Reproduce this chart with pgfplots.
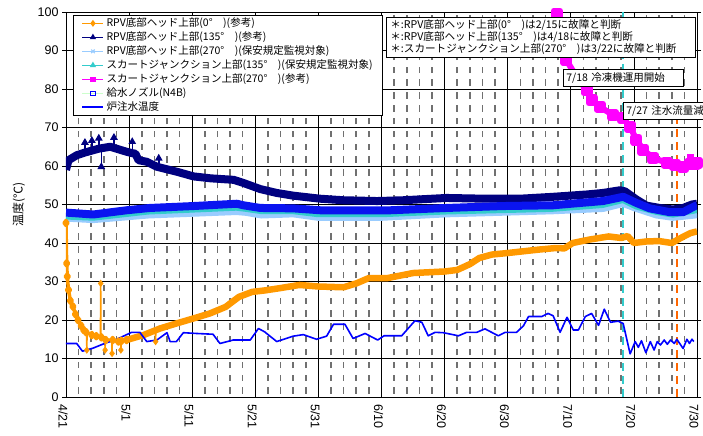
\documentclass[border=0pt]{standalone}
\usepackage{fontspec}
\setmainfont{Liberation Sans}
\newfontfamily\jp{Noto Sans CJK JP}
\usepackage{pgfplots}
\pgfplotsset{compat=1.18}
\usetikzlibrary{calc}
\definecolor{cOrange}{HTML}{FF9900}
\definecolor{cNavy}{HTML}{000080}
\definecolor{cLBlue}{HTML}{99CCFF}
\definecolor{cCyan}{HTML}{33CCCC}
\definecolor{cMag}{HTML}{FF00FF}
\definecolor{cBlue}{HTML}{0000FF}
\definecolor{cBand}{HTML}{0A14F0}
\definecolor{cGreen}{HTML}{CCFFCC}
\definecolor{cVOr}{HTML}{FF6600}
\definecolor{cGrid}{HTML}{707070}
\begin{document}
\begin{tikzpicture}
\begin{axis}[
  scale only axis, width=631bp, height=385bp,
  xmin=0, xmax=100, ymin=0, ymax=100,
  xtick={0,10,...,100},
  xticklabels={4/21,5/1,5/11,5/21,5/31,6/10,6/20,6/30,7/10,7/20,7/30},
  minor x tick num=4,
  ytick={0,10,...,100},
  xmajorgrids, ymajorgrids, xminorgrids,
  major grid style={black, line width=0.7bp},
  minor grid style={cGrid, line width=1.6bp, dash pattern=on 6.4bp off 6.43bp, dash phase=9.6bp},
  x tick style={draw=none},
  y tick style={black, line width=0.7bp},
  tick align=outside, major tick length=4bp, minor tick length=0bp,
  xticklabel style={rotate=-90, anchor=west, font=\fontsize{12.5bp}{14bp}\selectfont, yshift=-3bp},
  yticklabel style={font=\fontsize{12.5bp}{14bp}\selectfont},
  /pgf/number format/assume math mode=true,
  ylabel={\jp 温度(℃)},
  ylabel style={font=\fontsize{12bp}{14bp}\selectfont, at={(axis description cs:-0.075,0.5)}, anchor=center},
  axis line style={black, line width=0.8bp},
  legend cell align=left,
  legend style={at={(0.0111,0.9922)}, anchor=north west, draw=black, line width=0.7bp, fill=white,
    font=\jp\fontsize{10.5bp}{12bp}\selectfont, row sep=0bp, inner xsep=8bp, inner ysep=1bp,
    nodes={text height=9bp, text depth=3bp, inner ysep=1bp}},
  legend image code/.code={\draw[mark repeat=2, mark phase=2, #1] plot coordinates {(0bp,0bp) (10.5bp,0bp) (21bp,0bp)};},
]
% legend images
\addlegendimage{cOrange, line width=1.2bp, mark=diamond*, mark size=2.5bp}
\addlegendentry{\makebox[250bp][l]{RPV底部ヘッド上部(0°　)(参考)}}
\addlegendimage{cNavy, line width=1.2bp, mark=triangle*, mark size=2.5bp}
\addlegendentry{RPV底部ヘッド上部(135°　)(参考)}
\addlegendimage{cLBlue, line width=1.2bp, mark=x, mark size=2.5bp}
\addlegendentry{RPV底部ヘッド上部(270°　)(保安規定監視対象)}
\addlegendimage{cCyan, line width=1.2bp, mark=triangle*, mark size=2.5bp}
\addlegendentry{スカートジャンクション上部(135°　)(保安規定監視対象)}
\addlegendimage{cMag, line width=1.2bp, mark=square*, mark size=2.2bp}
\addlegendentry{スカートジャンクション上部(270°　)(参考)}
\addlegendimage{cGreen, line width=1.2bp, mark=square, mark size=2.2bp, mark options={draw=cBlue, fill=white, line width=1bp}}
\addlegendentry{給水ノズル(N4B)}
\addlegendimage{cBlue, line width=2.2bp}
\addlegendentry{炉注水温度}

% vertical event lines
\addplot[forget plot, cCyan, line width=2.5bp, dash pattern=on 8bp off 5bp] coordinates {(88.3,0) (88.3,100)};
\addplot[forget plot, cVOr, line width=2.5bp, dash pattern=on 8bp off 5bp] coordinates {(96.8,0) (96.8,72.5)};

% orange RPV 0 deg - early part
\addplot[forget plot, cOrange, line width=3.5bp, line join=round, mark=diamond*, mark size=2.5bp] coordinates {
(0,45.2) (0.1,34.7) (0.2,31.3) (0.4,27.8) (0.7,25) (1.1,23.5) (1.5,21.5) (1.9,20) (2.4,18.5) (2.8,17.4)
(3.2,16.8) (4.1,16.1) (4.8,15.8) (5.6,15.5) (6.3,14.8) (7.4,14.8) (8.3,14.4) (8.8,14.6) (9.6,14.8)};
\addplot[forget plot, cOrange, line width=1.5bp, mark=diamond*, mark size=2.5bp, mark indices={2}] coordinates {(5.45,15.8) (5.5,29.5) (5.55,15.6)};
\addplot[forget plot, cOrange, line width=1.5bp, mark=diamond*, mark size=2.5bp, mark indices={2}] coordinates {(3.25,16.7) (3.3,12.2) (3.35,16.6)};
\addplot[forget plot, cOrange, line width=1.5bp, mark=diamond*, mark size=2.5bp, mark indices={2}] coordinates {(6.15,15) (6.2,12.2) (6.25,14.9)};
\addplot[forget plot, cOrange, line width=1.5bp, mark=diamond*, mark size=2.5bp, mark indices={2}] coordinates {(7.25,14.9) (7.3,11.3) (7.35,14.8)};
\addplot[forget plot, cOrange, line width=1.5bp, mark=diamond*, mark size=2.5bp, mark indices={2}] coordinates {(8.65,14.5) (8.7,12.2) (8.75,14.6)};
\addplot[forget plot, cOrange, line width=1.5bp, mark=diamond*, mark size=2.5bp, mark indices={2}] coordinates {(14.15,17.6) (14.2,14.4) (14.25,17.7)};
% orange band
\addplot[forget plot, cOrange, line width=6.5bp, line join=round] coordinates {
(9.6,14.8) (12.3,16.1) (14.9,17.8) (17.5,19.1) (20.2,20.4) (22.8,21.7) (25.3,23.4) (27.4,26) (29.5,27.3)
(31.6,27.7) (34,28.3) (37,29.1) (40,28.7) (44,28.5) (46,29.5) (48,30.9) (51,30.9) (55,32.2) (60,32.6)
(62,33) (64,34.5) (65.5,36.1) (67.5,37) (70,37.4) (75,38.3) (77.7,38.7) (79,38.6) (80.3,40) (83,40.9)
(86,41.7) (88,41.3) (89,41.8) (90,40) (92,40.4) (94,40.5) (96,40) (97,40.9) (98,41.8) (99,42.6) (100,43)};

% navy RPV 135 deg
\addplot[forget plot, cNavy, line width=8bp, line join=round] coordinates {
(0,59) (0.4,61.5) (1.7,62.8) (3,63.5) (4.1,64) (5.2,64.5) (7,65) (9.6,63.7) (10.6,63.3) (11,63.2)
(11.5,61.5) (12.8,61.1) (14.4,59.8) (17.6,58.5) (20.2,57.3) (22.9,56.8) (26.6,56.4) (28.1,55.6)
(30.8,54) (33.4,53) (36,52.3) (40.3,51.5) (44,51.1) (49.3,50.9) (53.4,51.1) (60.3,51.7) (66.6,51.5)
(71.9,51.5) (77.2,52) (82.5,52.6) (85.1,53) (87.8,53.7) (88.6,53.4) (90.4,51.3) (92,49.7) (94.1,49.1)
(96.2,48.7) (97.8,49.1) (99.2,50) (100,50.2)};
\addplot[forget plot, cNavy, line width=1.5bp, mark=triangle*, mark size=3bp, mark indices={2}] coordinates {(3,63.5) (3,66.1)};
\addplot[forget plot, cNavy, line width=1.5bp, mark=triangle*, mark size=3bp, mark indices={2}] coordinates {(4.1,64) (4.1,66.6)};
\addplot[forget plot, cNavy, line width=1.5bp, mark=triangle*, mark size=3bp, mark indices={2}] coordinates {(5.2,64.5) (5.2,67.2)};
\addplot[forget plot, cNavy, line width=1.5bp, mark=triangle*, mark size=3bp, mark indices={2}] coordinates {(5.6,64.5) (5.6,59.8)};
\addplot[forget plot, cNavy, line width=1.5bp, mark=triangle*, mark size=3bp, mark indices={2}] coordinates {(7.6,64.8) (7.6,67.4)};
\addplot[forget plot, cNavy, line width=1.5bp, mark=triangle*, mark size=3bp, mark indices={2}] coordinates {(10.5,63.4) (10.5,66.3)};
\addplot[forget plot, cNavy, line width=1.5bp, mark=triangle*, mark size=3bp, mark indices={2}] coordinates {(14.7,60) (14.7,62)};

% light blue RPV 270 deg
\addplot[forget plot, cLBlue, line width=8bp, line join=round] coordinates {
(0,46.6) (4.3,46.2) (13,47.4) (27,48.3) (28.5,48.1) (31,47.4) (36,47.7) (40,46.8) (50,46.8) (60.3,47.7)
(77.2,48.5) (85.1,49.1) (88.3,50.4) (90.4,49.1) (93.6,47.4) (96.2,46.8) (99.7,47.4) (100,47.6)};
% cyan SJ 135 deg
\addplot[forget plot, cCyan, line width=7bp, line join=round] coordinates {
(0,47.0) (4.3,46.7) (13,48.3) (27,49.3) (28.5,49.0) (31,48.4) (36,48.4) (40,47.6) (50,47.6) (60,48.3)
(77,49.0) (85,50.0) (88.3,51.3) (90.4,49.6) (93.6,48.2) (96.2,47.5) (99.7,48.6) (100,48.8)};
% magenta SJ 270 deg
\addplot[forget plot, cMag, line width=6bp, line join=round, mark=square*, mark size=3bp] coordinates {
(77,101.5) (77.8,99.6) (79.3,87.5) (80.9,83.2) (82.5,79.7) (83.3,77.1) (84.6,75.4) (86.7,73.2) (88.3,72.4)
(89.4,70.2) (90.4,66.8) (91.5,64.2) (93.1,62) (95.2,60.9) (96.5,60.3) (97.8,59.8) (98.9,60.5) (99.7,60.5) (100,60.8)};
\addplot[forget plot, cMag, only marks, mark=square*, mark size=3bp] coordinates {(99,62.4)};
% N4B blue band
\addplot[forget plot, cBand, line width=8bp, line join=round] coordinates {
(0,47.9) (4.3,47.4) (9.6,48.5) (13.3,49.1) (20.2,49.6) (27.1,50.2) (28.1,49.8) (30.8,49.1) (36,49)
(40.3,48.5) (46.7,48.5) (51.4,48.5) (60.3,49.1) (69.3,49.6) (77.2,49.8) (85.1,50.9) (88.3,52) (90.4,50.4)
(92.5,49) (95.7,48) (97.8,48) (99.7,49.6) (100,49.8)};
% reactor injection water temperature
\addplot[forget plot, cBlue, line width=1.6bp, line join=round] coordinates {
(0,13.9) (1.7,13.9) (2.6,11.9) (4.3,12.7) (6.4,14.1) (7.8,14.8) (10.4,16.8) (11.7,16.8) (12.8,14.4)
(14.4,14.8) (16,16.7) (16.5,14.4) (17.5,14.4) (18.6,16.7) (20.7,16.5) (23.3,16.3) (24.4,13.9) (26.5,14.8)
(29.2,14.8) (30.5,17.8) (31.5,16.9) (33.4,14.4) (36,15.8) (37.6,16.2) (39.7,15.0) (41.3,15.8) (42.4,18.9)
(44.2,18.9) (45.5,15.2) (47.4,16.5) (49.4,14.8) (50.4,15.9) (53.2,15.9) (55.3,19.8) (56.4,19.4) (57.4,15.9)
(58.5,16.8) (59.8,16.7) (62.2,15.9) (63.5,16.8) (65.1,16.8) (66.4,17.7) (68.5,15.9) (69.6,16.8) (71.4,16.8)
(72.5,18.5) (73.3,20.9) (75.4,20.9) (76.4,21.7) (77.2,21.1) (78.3,16.8) (79.4,20.7) (80.4,17.4) (81.2,17.4)
(82.3,20.9) (83.3,21.7) (84.4,18.6) (85.3,22.8) (86.3,19.4) (87.5,19.7) (88.3,19.1) (89.4,11.2) (90.2,14.4)
(90.7,12.9) (91.2,14.6) (91.9,11.5) (92.6,14.4) (93.2,12.2) (93.7,14.4) (94.2,13.5) (94.8,14.8) (95.3,13.7)
(95.8,14.8) (96.4,13.9) (96.8,15.0) (97.3,13.8) (97.8,12.6) (98.4,15.0) (98.8,13.9) (99.2,15.0) (99.5,14.4)};
\end{axis}
\coordinate (O) at (current axis.south west);
\node[draw=black, line width=0.7bp, fill=white, anchor=north west, inner xsep=4bp, inner ysep=2.5bp, align=left,
  text width=301bp, font=\jp\fontsize{10.6bp}{11.8bp}\selectfont] at ($(O)+(320bp,380bp)$)
  {＊:RPV底部ヘッド上部(0°　)は2/15に故障と判断\\
   ＊:RPV底部ヘッド上部(135°　)は4/18に故障と判断\\
   ＊:スカートジャンクション上部(270°　)は3/22に故障と判断};
\node[draw=black, line width=0.7bp, fill=white, anchor=north west, inner xsep=3bp, inner ysep=0bp,
  text width=114bp, minimum height=17bp, align=left, font=\jp\fontsize{10.5bp}{12bp}\selectfont] at ($(O)+(497bp,328bp)$)
  {7/18 冷凍機運用開始};
\node[draw=black, line width=0.7bp, fill=white, anchor=north west, inner xsep=3bp, inner ysep=0bp,
  text width=114bp, minimum height=17bp, align=left, font=\jp\fontsize{10.5bp}{12bp}\selectfont] at ($(O)+(557bp,295bp)$)
  {7/27 注水流量減};
\pgfresetboundingbox
\path[use as bounding box] ($(O)+(-66bp,-39bp)$) rectangle ($(O)+(637bp,397bp)$);
\end{tikzpicture}
\end{document}
